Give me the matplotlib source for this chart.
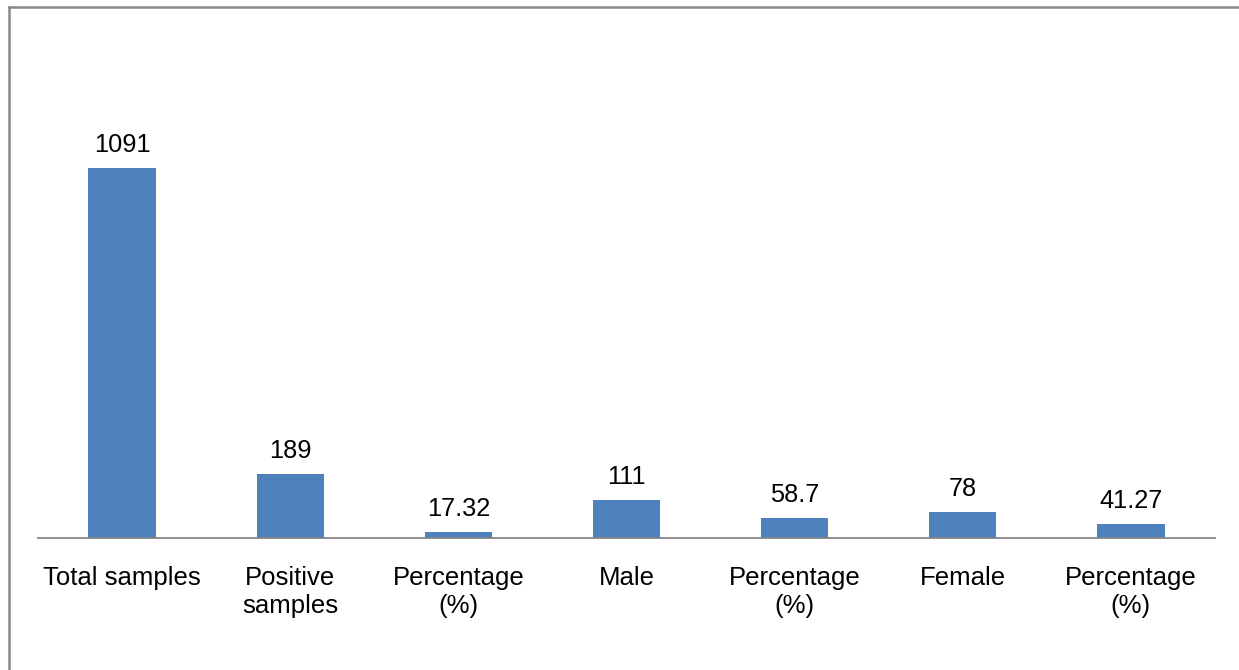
import matplotlib
matplotlib.use("Agg")
import matplotlib.pyplot as plt
from matplotlib.lines import Line2D

categories = ["Total samples", "Positive\nsamples", "Percentage\n(%)", "Male",
              "Percentage\n(%)", "Female", "Percentage\n(%)"]
values = [1091, 189, 17.32, 111, 58.7, 78, 41.27]
value_labels = ["1091", "189", "17.32", "111", "58.7", "78", "41.27"]

plt.rcParams['font.family'] = ['Liberation Sans', 'DejaVu Sans']

W, H = 1239, 670
fig = plt.figure(figsize=(W / 100, H / 100), dpi=100)
ax = fig.add_axes([38 / W, 1 - 538 / H, (1215 - 38) / W, (538 - 131) / H])

x = list(range(len(categories)))
bars = ax.bar(x, values, width=0.4, color="#4F81BD", zorder=2)
ax.set_xlim(-0.5, len(categories) - 0.5)
ax.set_ylim(0, 1200)

for xi, v, lab in zip(x, values, value_labels):
    ax.annotate(lab, (xi, v), xytext=(0, 11.5), textcoords="offset points",
                ha="center", va="baseline", fontsize=18.3, color="black")

ax.set_xticks(x)
ax.set_xticklabels(categories, fontsize=18.5, linespacing=1.2)
ax.tick_params(axis="x", length=0, pad=20)
ax.set_yticks([])
for s in ["top", "right", "left"]:
    ax.spines[s].set_visible(False)
ax.spines["bottom"].set_color("#868686")
ax.spines["bottom"].set_linewidth(1.3)
ax.spines["bottom"].set_zorder(3)

# outer chart border (only top and left visible in the crop)
fig.add_artist(Line2D([8.5 / W, 8.5 / W], [0, 1 - 6.7 / H], transform=fig.transFigure,
                      color="#888888", linewidth=1.8, solid_capstyle="projecting"))
fig.add_artist(Line2D([8.5 / W, 1], [1 - 6.7 / H, 1 - 6.7 / H], transform=fig.transFigure,
                      color="#888888", linewidth=1.8, solid_capstyle="projecting"))

fig.savefig("out.png", dpi=100)
